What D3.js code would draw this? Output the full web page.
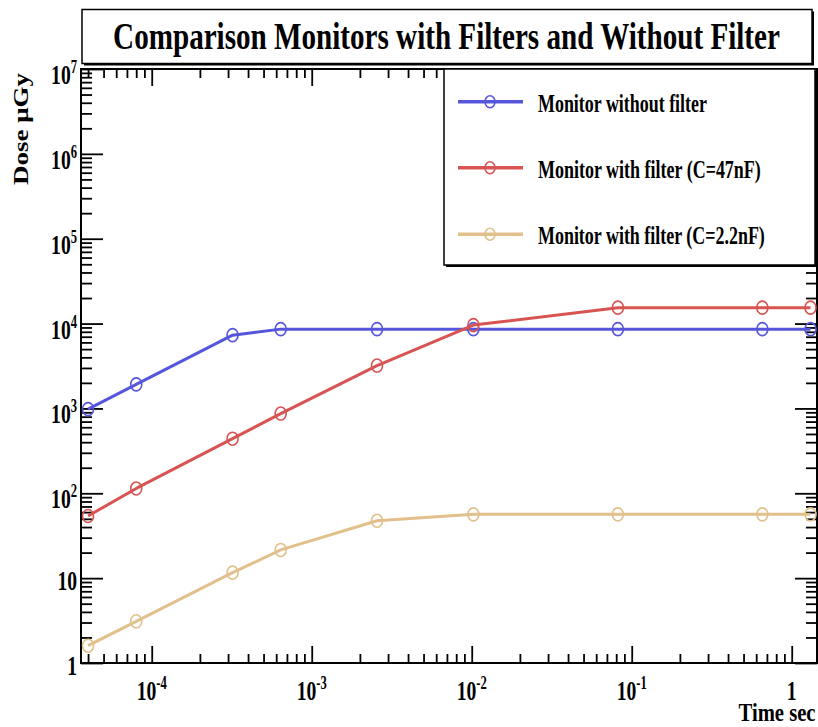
<!DOCTYPE html>
<html>
<head>
<meta charset="utf-8">
<script src="https://cdn.jsdelivr.net/npm/d3@7"></script>
<style>
  html, body { margin: 0; padding: 0; background: #fff; }
  svg { display: block; }
  text { font-family: "Liberation Serif", "Times New Roman", serif; font-weight: bold; fill: #000; }
</style>
</head>
<body>
<svg id="chart" width="818" height="727"></svg>
<script>
// Sampling times (s) and measured dose (µGy) for each monitor
const times = [4e-5, 8e-5, 3.2e-4, 6.4e-4, 2.56e-3, 1.024e-2, 8.192e-2, 0.65536, 1.31072];
const doseNoFilter = [980, 1920, 7300, 8600, 8600, 8600, 8600, 8600, 8600];
const doseFilter47nF = [54, 114, 440, 870, 3200, 9600, 15400, 15400, 15400];
const doseFilter2p2nF = [1.6, 3.1, 11.6, 21.5, 47.5, 56.5, 56.5, 56.5, 56.5];

const seriesNames = ["Monitor without filter", "Monitor with filter (C=47nF)", "Monitor with filter (C=2.2nF)"];
const seriesColors = ["#5656dc", "#d75452", "#e2c08c"];

const xMajorExp = [-4, -3, -2, -1, 0];
const yMajorExp = [0, 1, 2, 3, 4, 5, 6, 7];

const titleText = "Comparison Monitors with Filters and Without Filter";
const xTitle = "Time sec";
const yTitle = "Dose \u03bcGy";

const svg = d3.select("#chart");

// Frame of the plotting area
const frame = { left: 81, right: 817, top: 69, bottom: 663 };

const x = d3.scaleLog().domain([3.614e-5, 1.439]).range([frame.left, frame.right]);
const y = d3.scaleLog().domain([1, 1e7]).range([frame.bottom, frame.top]);

// Minor tick values (2..9 × 10^k) within each domain
function minorTicks(scale, kMin, kMax) {
  const [d0, d1] = scale.domain();
  const out = [];
  for (let k = kMin; k <= kMax; k++) {
    for (let m = 2; m <= 9; m++) {
      const v = m * Math.pow(10, k);
      if (v >= d0 && v <= d1) out.push(v);
    }
  }
  return out;
}
const xMajor = xMajorExp.map(e => Math.pow(10, e));
const yMajor = yMajorExp.map(e => Math.pow(10, e));
const xMinor = minorTicks(x, -6, 1);
const yMinor = minorTicks(y, 0, 7);

// Condensed text: squeeze horizontally so the string spans the given width
function fitText(parent, px, py, str, size, width, anchor, rotate) {
  const g = parent.append("g");
  const t = g.append("text").attr("font-size", size).attr("text-anchor", anchor).text(str);
  const s = width / t.node().getComputedTextLength();
  g.attr("transform", `translate(${px},${py})${rotate ? " rotate(" + rotate + ")" : ""} scale(${s},1)`);
  return g;
}

// Frame
svg.append("rect")
  .attr("x", frame.left).attr("y", frame.top)
  .attr("width", frame.right - frame.left).attr("height", frame.bottom - frame.top)
  .attr("fill", "#fff").attr("stroke", "#000").attr("stroke-width", 2);

// Tick marks on all four sides, pointing inward
function drawTicks(axisFn, transform, values, size) {
  const g = svg.append("g").attr("transform", transform)
    .call(axisFn.tickValues(values).tickSizeInner(-size).tickSizeOuter(0).tickFormat(""));
  g.select(".domain").remove();
  g.selectAll(".tick line").attr("stroke", "#000").attr("stroke-width", 1.8);
}
drawTicks(d3.axisBottom(x), `translate(0,${frame.bottom})`, xMajor, 17);
drawTicks(d3.axisBottom(x), `translate(0,${frame.bottom})`, xMinor, 9);
drawTicks(d3.axisTop(x), `translate(0,${frame.top})`, xMajor, 17);
drawTicks(d3.axisTop(x), `translate(0,${frame.top})`, xMinor, 9);
drawTicks(d3.axisLeft(y), `translate(${frame.left},0)`, yMajor, 22);
drawTicks(d3.axisLeft(y), `translate(${frame.left},0)`, yMinor, 11);
drawTicks(d3.axisRight(y), `translate(${frame.right},0)`, yMajor, 22);
drawTicks(d3.axisRight(y), `translate(${frame.right},0)`, yMinor, 11);

// Condensed tick label: "10" with a superscript exponent, or a plain number
const sx = 0.7;
function powerLabel(parent, px, py, exp, anchor) {
  const g = parent.append("g").attr("transform", `translate(${px},${py}) scale(${sx},1)`);
  const t = g.append("text").attr("text-anchor", anchor).attr("font-size", 28);
  if (exp === 0) { t.text("1"); }
  else if (exp === 1) { t.text("10"); }
  else {
    t.append("tspan").text("10");
    t.append("tspan").attr("font-size", 18).attr("dy", -11).text(String(exp));
  }
}
const labels = svg.append("g");
xMajorExp.forEach(e => powerLabel(labels, x(Math.pow(10, e)), 700, e, "middle"));
yMajorExp.forEach(e => {
  const yy = y(Math.pow(10, e)) + (e >= 2 ? 15 : 12);
  powerLabel(labels, 77, yy, e, "end");
});

// Axis titles
fitText(svg, 815.5, 721, xTitle, 25, 77, "end");
fitText(svg, 28, 73, yTitle, 22, 112, "end", -90);

// Data series
const series = [doseNoFilter, doseFilter47nF, doseFilter2p2nF];
const line = d3.line().x(d => x(d[0])).y(d => y(d[1]));
const plot = svg.append("g");
series.forEach((vals, i) => {
  const pts = times.map((t, j) => [t, vals[j]]);
  plot.append("path").datum(pts).attr("d", line)
    .attr("fill", "none").attr("stroke", seriesColors[i]).attr("stroke-width", 3)
    .attr("stroke-linejoin", "round");
  plot.selectAll(null).data(pts).enter().append("ellipse")
    .attr("cx", d => x(d[0])).attr("cy", d => y(d[1]))
    .attr("rx", 5.5).attr("ry", 6.5)
    .attr("fill", "none").attr("stroke", seriesColors[i]).attr("stroke-width", 1.6);
});

// Legend
const legend = { x0: 444, y0: 69, x1: 815, y1: 265 };
svg.append("rect").attr("x", legend.x0 + 2).attr("y", legend.y0 + 2)
  .attr("width", legend.x1 - legend.x0).attr("height", legend.y1 - legend.y0).attr("fill", "#000");
svg.append("rect").attr("x", legend.x0).attr("y", legend.y0)
  .attr("width", legend.x1 - legend.x0).attr("height", legend.y1 - legend.y0)
  .attr("fill", "#fff").attr("stroke", "#000").attr("stroke-width", 1.5);
const legendRows = [101.7, 167.7, 234.3];
const legendWidths = [169, 223, 227];
seriesNames.forEach((name, i) => {
  const ly = legendRows[i];
  svg.append("line").attr("x1", 458).attr("x2", 523).attr("y1", ly).attr("y2", ly)
    .attr("stroke", seriesColors[i]).attr("stroke-width", 3.5);
  svg.append("ellipse").attr("cx", 490).attr("cy", ly).attr("rx", 5).attr("ry", 6)
    .attr("fill", "none").attr("stroke", seriesColors[i]).attr("stroke-width", 1.6);
  fitText(svg, 538, ly + 10, name, 25, legendWidths[i], "start");
});

// Title box
svg.append("rect").attr("x", 84).attr("y", 11.5).attr("width", 730).attr("height", 54).attr("fill", "#000");
svg.append("rect").attr("x", 82).attr("y", 9.5).attr("width", 730).attr("height", 54)
  .attr("fill", "#fff").attr("stroke", "#000").attr("stroke-width", 1.5);
fitText(svg, 446.5, 49, titleText, 37, 667, "middle");
</script>
</body>
</html>
